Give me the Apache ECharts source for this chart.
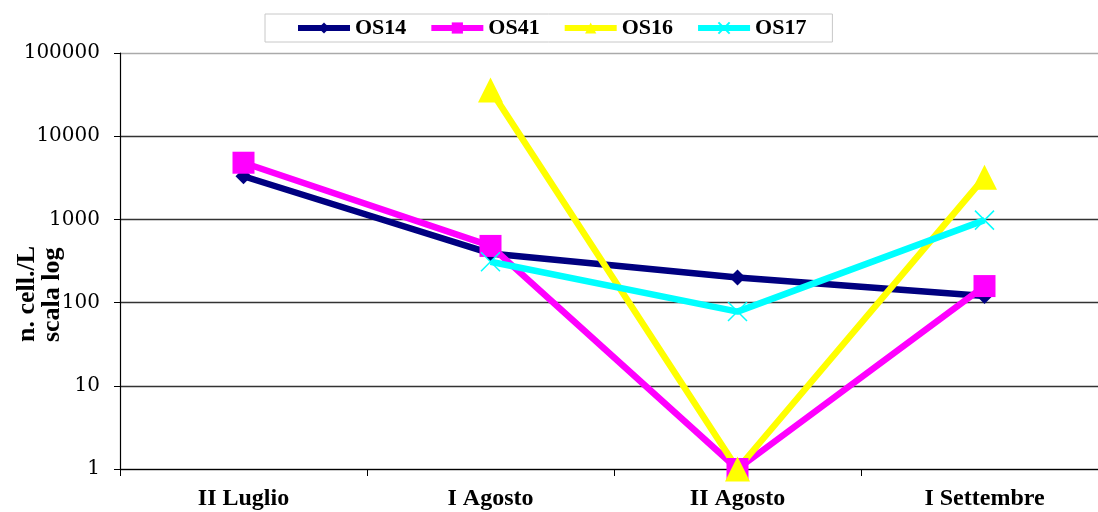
<!DOCTYPE html>
<html>
<head>
  <meta charset="UTF-8">
  <script src="https://cdn.jsdelivr.net/npm/echarts@6/dist/echarts.min.js"></script>
  <style>
    html, body { margin: 0; padding: 0; background: #fff; }
    #chart { width: 1098px; height: 512px; }
  </style>
</head>
<body>
<div id="chart"></div>
<script>
  var categories = ['II Luglio', 'I Agosto', 'II Agosto', 'I Settembre'];
  var os14 = [3300, 390, 200, 120];
  var os41 = [4800, 480, 1, 158];
  var os16 = [null, 36000, 1, 3200];
  var os17 = [null, 310, 78, 980];
  var yTicks = [1, 10, 100, 1000, 10000, 100000];

  var serif = 'Liberation Serif';
  var crossPath = 'path://M0,0L10,10M10,0L0,10';

  function line(name, data, color, symbol, size, extra) {
    var s = {
      name: name,
      type: 'line',
      data: data,
      symbol: symbol,
      symbolSize: size,
      showSymbol: true,
      connectNulls: false,
      lineStyle: { color: color, width: 6.5 },
      itemStyle: { color: color },
      z: 2
    };
    if (extra) Object.assign(s.itemStyle, extra);
    return s;
  }

  var chart = echarts.init(document.getElementById('chart'));
  chart.setOption({
    animation: false,
    backgroundColor: '#fff',
    legend: {
      top: 14,
      left: 265,
      itemGap: 22,
      itemWidth: 52,
      itemHeight: 14,
      padding: [3, 26, 3, 30],
      borderColor: '#c8c8c8',
      borderWidth: 1,
      lineStyle: { width: 6 },
      textStyle: { fontFamily: serif, fontWeight: 'bold', fontSize: 22, color: '#000' },
      data: ['OS14', 'OS41', 'OS16', 'OS17']
    },
    grid: { left: 120, width: 988, top: 53, bottom: 43, outerBoundsMode: 'none' },
    xAxis: {
      type: 'category',
      data: categories,
      boundaryGap: true,
      axisLine: { lineStyle: { color: '#000', width: 1.2 } },
      axisTick: { show: true, length: 7, lineStyle: { color: '#000' } },
      axisLabel: { fontFamily: serif, fontWeight: 'bold', fontSize: 24, color: '#000', margin: 18 }
    },
    yAxis: {
      type: 'log',
      logBase: 10,
      min: yTicks[0],
      max: yTicks[yTicks.length - 1],
      axisLine: { show: true, lineStyle: { color: '#000', width: 1.2 } },
      axisTick: { show: true, length: 6, lineStyle: { color: '#000' } },
      axisLabel: {
        fontFamily: 'DejaVu Serif', fontSize: 20, color: '#000', margin: 20,
        formatter: function (v) { return String(Math.round(v)); }
      },
      splitLine: { show: true, lineStyle: { color: ['#333', '#333', '#333', '#333', '#333', '#aaa'], width: 1.3 } }
    },
    graphic: [{
      type: 'text',
      left: 14,
      top: 246,
      rotation: Math.PI / 2,
      style: {
        text: 'n. cell./L\nscala log',
        font: 'bold 26px "Liberation Serif"',
        fill: '#000',
        align: 'center',
        lineHeight: 25
      }
    }],
    series: [
      line('OS14', os14, '#000080', 'diamond', 16),
      line('OS41', os41, '#ff00ff', 'rect', 22),
      line('OS16', os16, '#ffff00', 'triangle', 25),
      line('OS17', os17, '#00ffff', crossPath, 19, { borderColor: '#00ffff', borderWidth: 1.5 })
    ]
  });
</script>
</body>
</html>
